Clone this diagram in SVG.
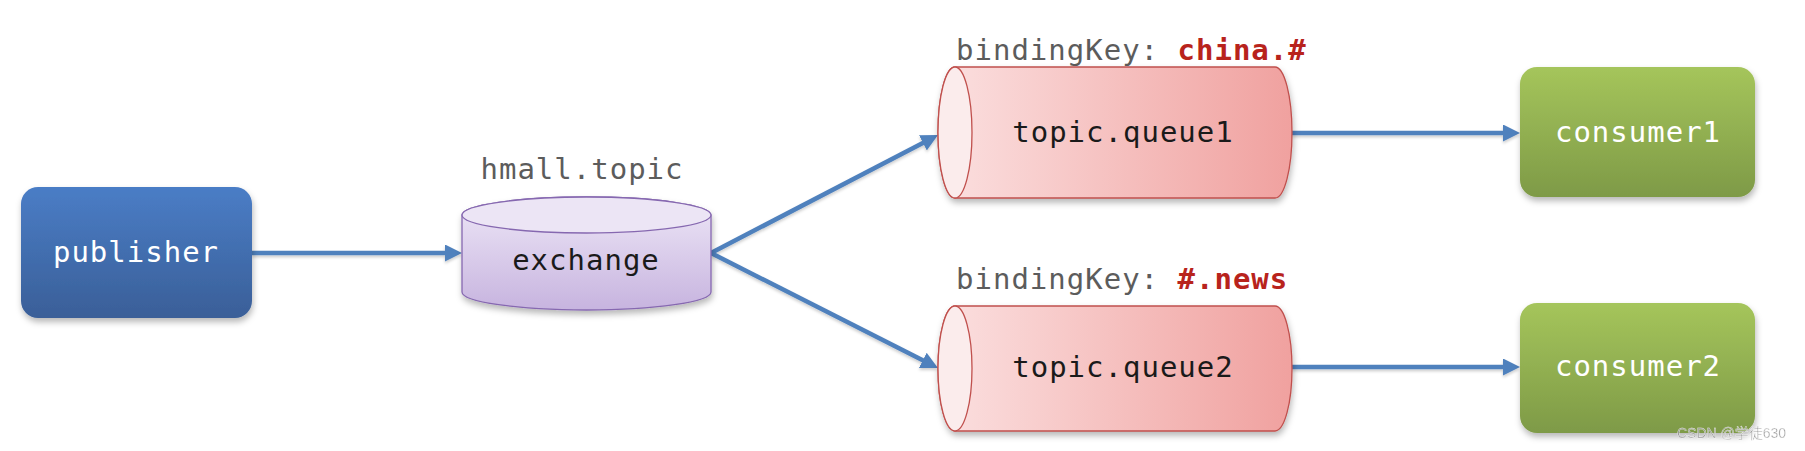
<svg xmlns="http://www.w3.org/2000/svg" width="1805" height="451" viewBox="0 0 1805 451">
  <defs>
    <linearGradient id="gBlue" x1="0" y1="0" x2="0" y2="1">
      <stop offset="0" stop-color="#4a7dc6"/>
      <stop offset="1" stop-color="#3a5f98"/>
    </linearGradient>
    <linearGradient id="gGreen" x1="0" y1="0" x2="0" y2="1">
      <stop offset="0" stop-color="#a5c55b"/>
      <stop offset="1" stop-color="#7e9a47"/>
    </linearGradient>
    <linearGradient id="gPurple" x1="0" y1="0" x2="0" y2="1">
      <stop offset="0" stop-color="#eee7f7"/>
      <stop offset="1" stop-color="#c7b4df"/>
    </linearGradient>
    <linearGradient id="gRed" x1="0" y1="0" x2="1" y2="0">
      <stop offset="0" stop-color="#fbe0e0"/>
      <stop offset="1" stop-color="#f0a19f"/>
    </linearGradient>
    <filter id="shadow" x="-10%" y="-10%" width="125%" height="135%">
      <feDropShadow dx="1" dy="4" stdDeviation="3" flood-color="#000" flood-opacity="0.28"/>
    </filter>
    <filter id="lshadow" x="-5%" y="-50%" width="110%" height="200%">
      <feDropShadow dx="0" dy="2" stdDeviation="1.5" flood-color="#000" flood-opacity="0.2"/>
    </filter>
    <marker id="arrow" viewBox="0 0 17 17" markerWidth="17" markerHeight="17" refX="1" refY="8.5" orient="auto" markerUnits="userSpaceOnUse">
      <path d="M0,0 L17,8.5 L0,17 Z" fill="#4f81bd"/>
    </marker>
    <style>
      .lbl { font-family: "DejaVu Sans Mono", "Liberation Mono", monospace; font-size: 29px; letter-spacing: 1px; }
      .white { fill: #ffffff; }
      .dark { fill: #1a1a1a; }
      .gray { fill: #5c5c5c; }
      .key { fill: #b8231c; font-weight: bold; }
      .conn { stroke: #4f81bd; stroke-width: 4.5; fill: none; marker-end: url(#arrow); }
      .qbody { fill: url(#gRed); stroke: #c0504d; stroke-width: 1.3; }
      .qcap { fill: #fbecec; stroke: #c0504d; stroke-width: 1.3; }
    </style>
  </defs>
  <rect width="1805" height="451" fill="#ffffff"/>

  <g id="connectors" filter="url(#lshadow)">
    <path class="conn" d="M252,253 L446,253"/>
    <path class="conn" d="M711,253 L923.8,142.4"/>
    <path class="conn" d="M711,253 L923.7,360.8"/>
    <path class="conn" d="M1292,133 L1504,133"/>
    <path class="conn" d="M1292,367 L1504,367"/>
  </g>

  <g id="publisher">
    <rect x="21" y="187" width="231" height="131" rx="17" fill="url(#gBlue)" filter="url(#shadow)"/>
    <text class="lbl white" x="136" y="262" text-anchor="middle">publisher</text>
  </g>

  <g id="exchange">
    <text class="lbl gray" x="582" y="179" text-anchor="middle">hmall.topic</text>
    <g filter="url(#shadow)">
      <path d="M462,215 A124.5,18 0 0 1 711,215 L711,292 A124.5,18 0 0 1 462,292 Z" fill="url(#gPurple)" stroke="#8668b0" stroke-width="1.3"/>
    </g>
    <ellipse cx="586.5" cy="215" rx="124.5" ry="18" fill="#ece5f5" stroke="#8668b0" stroke-width="1.3"/>
    <text class="lbl dark" x="586" y="270" text-anchor="middle">exchange</text>
  </g>

  <g id="queue1">
    <text class="lbl gray" x="956" y="60">bindingKey: <tspan class="key">china.#</tspan></text>
    <g filter="url(#shadow)">
      <path class="qbody" d="M955,67 L1275,67 A17,65.5 0 0 1 1275,198 L955,198 A17,65.5 0 0 1 955,67 Z"/>
    </g>
    <ellipse class="qcap" cx="955" cy="132.5" rx="17" ry="65.5"/>
    <text class="lbl dark" x="1123" y="142" text-anchor="middle">topic.queue1</text>
  </g>

  <g id="queue2">
    <text class="lbl gray" x="956" y="289">bindingKey: <tspan class="key">#.news</tspan></text>
    <g filter="url(#shadow)">
      <path class="qbody" d="M955,306 L1275,306 A17,62.5 0 0 1 1275,431 L955,431 A17,62.5 0 0 1 955,306 Z"/>
    </g>
    <ellipse class="qcap" cx="955" cy="368.5" rx="17" ry="62.5"/>
    <text class="lbl dark" x="1123" y="377" text-anchor="middle">topic.queue2</text>
  </g>

  <g id="consumer1">
    <rect x="1520" y="67" width="235" height="130" rx="17" fill="url(#gGreen)" filter="url(#shadow)"/>
    <text class="lbl white" x="1638" y="142" text-anchor="middle">consumer1</text>
  </g>

  <g id="consumer2">
    <rect x="1520" y="303" width="235" height="130" rx="17" fill="url(#gGreen)" filter="url(#shadow)"/>
    <text class="lbl white" x="1638" y="376" text-anchor="middle">consumer2</text>
  </g>

  <text x="1677" y="438" font-family="Liberation Sans, Noto Sans CJK SC, sans-serif" font-size="14" fill="#8a8a8a" stroke="#ffffff" stroke-width="0.4" opacity="0.9">CSDN @学徒630</text>
</svg>
